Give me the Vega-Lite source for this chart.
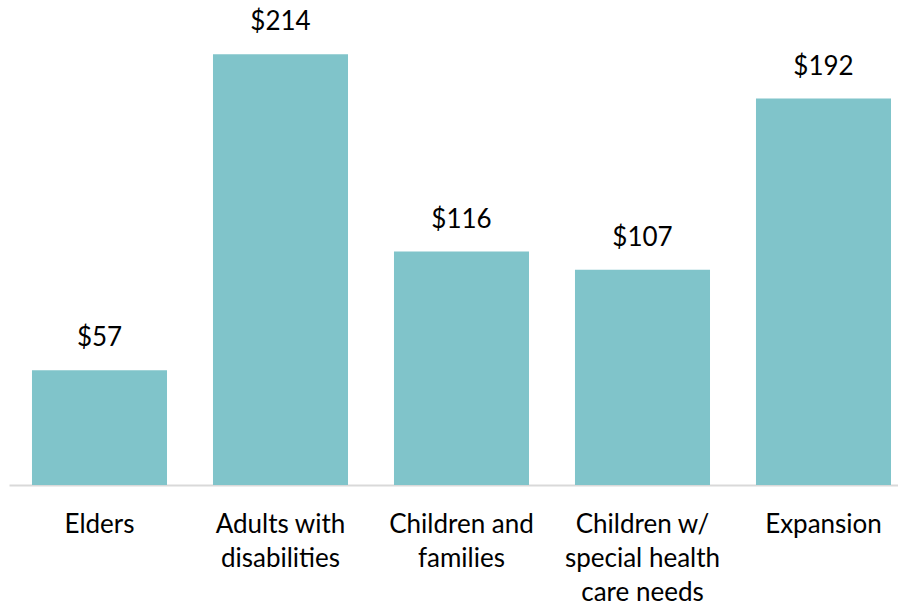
{
  "$schema": "https://vega.github.io/schema/vega-lite/v6.json",
  "width": 905,
  "height": 483,
  "autosize": "none",
  "padding": {"left": 9, "top": 2, "right": 0, "bottom": 120},
  "background": "white",
  "config": {"view": {"stroke": null}, "font": "Lato"},
  "data": {
    "values": [
      {"group": "Elders", "value": 57},
      {"group": "Adults with disabilities", "value": 214},
      {"group": "Children and families", "value": 116},
      {"group": "Children w/ special health care needs", "value": 107},
      {"group": "Expansion", "value": 192}
    ]
  },
  "encoding": {
    "x": {
      "field": "group",
      "type": "nominal",
      "sort": null,
      "scale": {"paddingInner": 0.254, "paddingOuter": 0.127},
      "axis": {
        "title": null,
        "labelAngle": 0,
        "labelFont": "Lato",
        "labelFontSize": 26,
        "labelColor": "#000000",
        "labelLineHeight": 34,
        "labelPadding": 47,
        "labelBaseline": "alphabetic",
        "labelLimit": 0,
        "ticks": false,
        "domainColor": "#d9d9d9",
        "domainWidth": 2,
        "labelExpr": "datum.value == 'Adults with disabilities' ? ['Adults with', 'disabilities'] : datum.value == 'Children and families' ? ['Children and', 'families'] : datum.value == 'Children w/ special health care needs' ? ['Children w/', 'special health', 'care needs'] : datum.value"
      }
    },
    "y": {
      "field": "value",
      "type": "quantitative",
      "scale": {"domain": [0, 240]},
      "axis": null
    }
  },
  "layer": [
    {"mark": {"type": "bar", "color": "#80c4ca"}},
    {
      "mark": {"type": "text", "baseline": "alphabetic", "dy": -24, "fontSize": 26, "font": "Lato", "color": "#000000"},
      "encoding": {"text": {"field": "value", "type": "quantitative", "format": "$d"}}
    }
  ]
}
